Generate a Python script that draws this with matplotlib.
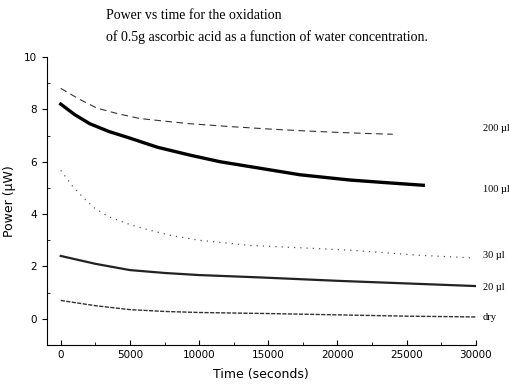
import matplotlib.pyplot as plt
from matplotlib.ticker import MultipleLocator

# values (time in s, power in uW)
t_200 = [0, 1300, 2600, 4000, 5700, 7500, 9350, 12000, 15000, 17500, 20000, 22000, 24000]
p_200 = [8.8, 8.4, 8.05, 7.85, 7.65, 7.55, 7.45, 7.35, 7.25, 7.18, 7.12, 7.08, 7.05]

t_100 = [0, 1000, 2100, 3500, 5000, 7000, 9350, 11500, 14400, 17300, 20900, 23500, 26200]
p_100 = [8.2, 7.8, 7.45, 7.15, 6.9, 6.55, 6.25, 6.0, 5.75, 5.5, 5.3, 5.2, 5.1]

t_30 = [0, 800, 1600, 2500, 3550, 5000, 6450, 8000, 10000, 13700, 17000, 20900, 25800, 29900]
p_30 = [5.67, 5.1, 4.64, 4.2, 3.88, 3.6, 3.38, 3.18, 3.0, 2.8, 2.72, 2.62, 2.43, 2.32]

t_20 = [0, 2500, 5000, 7500, 10000, 14400, 20000, 25000, 30000]
p_20 = [2.4, 2.1, 1.86, 1.75, 1.67, 1.58, 1.45, 1.35, 1.25]

t_dry = [0, 1500, 2500, 5000, 7500, 10000, 15000, 20000, 25000, 30000]
p_dry = [0.7, 0.58, 0.5, 0.35, 0.28, 0.24, 0.2, 0.15, 0.1, 0.07]

labels = ["200 \u00b5l", "100 \u00b5l", "30 \u00b5l", "20 \u00b5l", "dry"]
label_y = [7.25, 4.95, 2.4, 1.2, 0.05]

fig = plt.figure(figsize=(5.1, 3.85), dpi=100)
ax = fig.add_axes([0.092, 0.104, 0.841, 0.748])

ax.plot(t_200, p_200, color="#333333", lw=0.8, ls=(0, (6, 4)))
ax.plot(t_100, p_100, color="black", lw=2.4)
ax.plot(t_30, p_30, color="#555555", lw=0.9, ls=(0, (1, 4)))
ax.plot(t_20, p_20, color="#222222", lw=1.6)
ax.plot(t_dry, p_dry, color="#333333", lw=1.0, ls=(0, (3, 1)))

for lab, yy in zip(labels, label_y):
    ax.text(30500, yy, lab, fontsize=7.5, family="Liberation Serif",
            va="center", ha="left", clip_on=False)

ax.set_xlim(-1000, 30000)
ax.set_ylim(-1, 10)
ax.spines["top"].set_visible(False)
ax.spines["right"].set_visible(False)
ax.xaxis.set_major_locator(MultipleLocator(5000))
ax.xaxis.set_minor_locator(MultipleLocator(2500))
ax.yaxis.set_major_locator(MultipleLocator(2))
ax.yaxis.set_minor_locator(MultipleLocator(1))
ax.tick_params(axis="x", which="both", direction="in", labelsize=7.5)
ax.tick_params(axis="y", which="major", direction="out", labelsize=7.5)
ax.tick_params(axis="y", which="minor", direction="in")
ax.set_xlabel("Time (seconds)", fontsize=9, labelpad=6)
ax.set_ylabel("Power (\u00b5W)", fontsize=9, labelpad=6)

fig.text(0.208, 0.96, "Power vs time for the oxidation", fontsize=10,
         family="Liberation Serif", va="center")
fig.text(0.208, 0.903, "of 0.5g ascorbic acid as a function of water concentration.",
         fontsize=10, family="Liberation Serif", va="center")

fig.savefig("out.png", dpi=100)
